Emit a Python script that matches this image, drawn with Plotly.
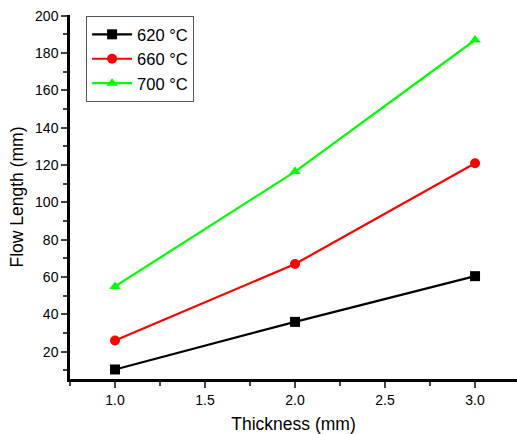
import plotly.graph_objects as go

thickness = [1.0, 2.0, 3.0]
s620 = [10.5, 36, 60.5]
s660 = [26, 67, 121]
s700 = [55, 116.5, 187]
names = ["620 °C", "660 °C", "700 °C"]
colors = ["#000000", "#ff0000", "#00ff00"]
symbols = ["square", "circle", "triangle-up"]

fig = go.Figure()
for ys, n, c, s in zip([s620, s660, s700], names, colors, symbols):
    fig.add_trace(go.Scatter(x=thickness, y=ys, name=n, mode="lines+markers",
                             line=dict(color=c, width=2.2),
                             marker=dict(symbol=s, size=10, color=c)))

fig.update_layout(
    width=517, height=434,
    margin=dict(l=70, r=0, t=15, b=55, autoexpand=False),
    paper_bgcolor="white", plot_bgcolor="white",
    font=dict(family="Liberation Sans, Arial, sans-serif", color="black", size=14),
    showlegend=True,
    legend=dict(x=0.036, y=0.997, xanchor="left", yanchor="top",
                bordercolor="#555555", borderwidth=1, bgcolor="white",
                font=dict(size=16.5), tracegroupgap=0, itemwidth=40),
)
fig.update_xaxes(range=[0.75, 3.233], dtick=0.5, tick0=1.0, tickformat=".1f", automargin=False,
                 tickfont=dict(size=14),
                 showgrid=False, zeroline=False, showline=True, linecolor="black",
                 linewidth=2.5, ticks="outside", ticklen=6, tickwidth=2,
                 minor=dict(ticks="outside", ticklen=4, dtick=0.25, tick0=0.75, tickwidth=1.5, showgrid=False),
                 title=dict(text="Thickness (mm)", font=dict(size=17.5), standoff=12))
fig.update_yaxes(range=[5.4, 200.4], dtick=20, tick0=0, automargin=False,
                 tickfont=dict(size=14),
                 showgrid=False, zeroline=False, showline=True, linecolor="black",
                 linewidth=2.5, ticks="outside", ticklen=6, tickwidth=2,
                 minor=dict(ticks="outside", ticklen=4, dtick=10, tick0=0, tickwidth=1.5, showgrid=False),
                 title=dict(text="Flow Length (mm)", font=dict(size=17.5), standoff=7))

fig.write_html("out.html", config={"displayModeBar": False},
               post_script="document.body.style.margin='0px';")
